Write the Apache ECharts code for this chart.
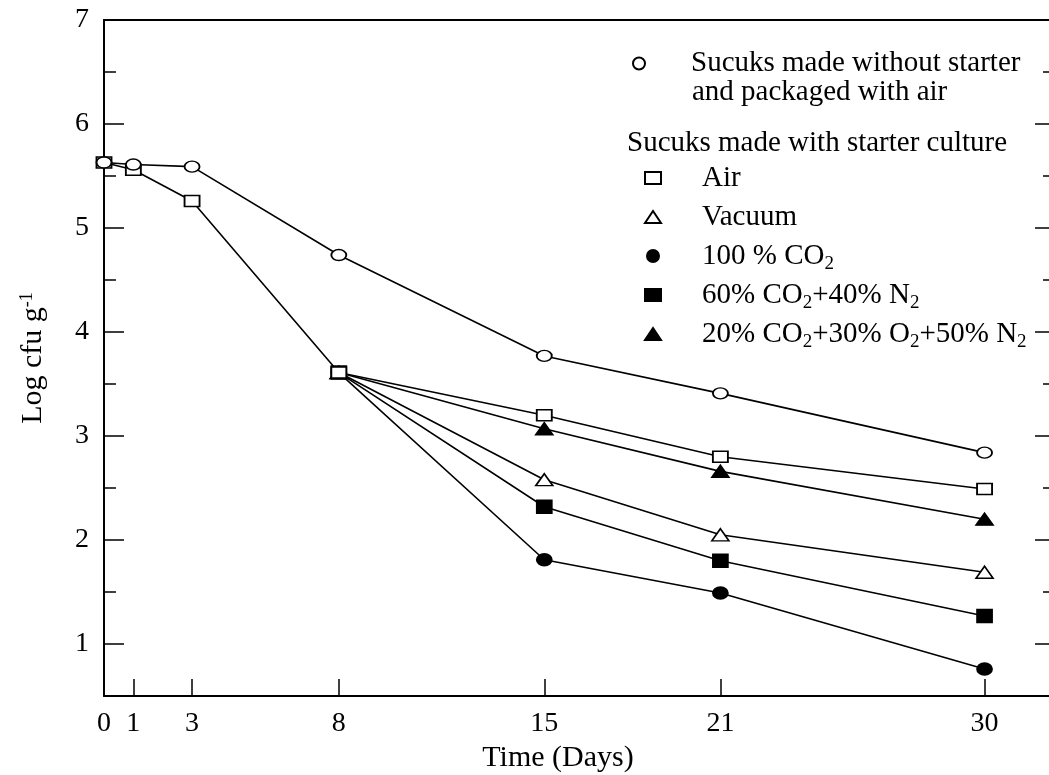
<!DOCTYPE html>
<html>
<head>
<meta charset="utf-8">
<script src="https://cdn.jsdelivr.net/npm/echarts@6/dist/echarts.min.js"></script>
<style>
  html, body { margin: 0; padding: 0; background: #fff; }
  #chart { width: 1049px; height: 775px; }
</style>
</head>
<body>
<div id="chart"></div>
<script>
// sampling days
const days = [0, 1, 3, 8, 15, 21, 30];
const starterDays = [8, 15, 21, 30];

// log cfu/g values
const noStarterAir = [5.63, 5.61, 5.59, 4.74, 3.77, 3.41, 2.84];
const starterAir = [5.63, 5.56, 5.26, 3.61, 3.20, 2.80, 2.49];
const starterVacuum = [3.61, 2.58, 2.05, 1.69];
const starterCO2 = [3.61, 1.81, 1.49, 0.76];
const starterCO2N2 = [3.61, 2.32, 1.80, 1.27];
const starterCO2O2N2 = [3.61, 3.07, 2.66, 2.20];

const xTicks = [0, 1, 3, 8, 15, 21, 30];
const yLabels = [1, 2, 3, 4, 5, 6, 7];

const legendRich = {
  'Sucuks made without starter': 'Sucuks made without starter',
  'Air': 'Air',
  'Vacuum': 'Vacuum',
  '100 % CO2': '100 % CO{sub|2}',
  '60% CO2+40% N2': '60% CO{sub|2}+40% N{sub|2}',
  '20% CO2+30% O2+50% N2': '20% CO{sub|2}+30% O{sub|2}+50% N{sub|2}'
};

const FONT = '"Liberation Serif", "Times New Roman", serif';
const ellipse = 'path://M0,50A50,50,0,1,1,100,50A50,50,0,1,1,0,50Z';

const chart = echarts.init(document.getElementById('chart'));

const pair = (xs, ys) => xs.map((x, i) => [x, ys[i]]);

function lineSeries(name, xs, ys, symbol, size, filled) {
  return {
    name,
    type: 'line',
    data: pair(xs, ys),
    symbol,
    symbolSize: size,
    showSymbol: true,
    lineStyle: { color: '#000', width: 1.6 },
    itemStyle: {
      color: filled ? '#000' : '#fff',
      borderColor: '#000',
      borderWidth: 1.6
    },
    emphasis: { disabled: true }
  };
}

const textBase = { color: '#000', fontFamily: FONT, fontSize: 28 };
const legendText = { color: '#000', fontFamily: FONT, fontSize: 29 };
const richSub = {
  sub: { fontFamily: FONT, fontSize: 19, color: '#000', verticalAlign: 'bottom', lineHeight: 19 },
  g: { width: 36 }
};

const option = {
  animation: false,
  backgroundColor: '#fff',
  textStyle: { fontFamily: FONT, color: '#000' },
  grid: { left: 104, top: 20, width: 951, height: 676, containLabel: false, outerBoundsMode: 'none' },
  xAxis: [
    {
      type: 'value',
      min: 0,
      max: 32.4,
      position: 'bottom',
      name: 'Time (Days)',
      nameLocation: 'middle',
      nameGap: 42,
      nameTextStyle: Object.assign({}, textBase, { fontSize: 30, padding: [0, 43, 0, 0] }),
      axisLine: { show: true, lineStyle: { color: '#000', width: 2 } },
      axisTick: { show: true, inside: true, length: 17, customValues: xTicks, lineStyle: { color: '#000', width: 1.5 } },
      axisLabel: Object.assign({}, textBase, { customValues: xTicks, margin: 14 }),
      splitLine: { show: false }
    },
    {
      type: 'value',
      min: 0,
      max: 32.4,
      position: 'top',
      axisLine: { show: true, lineStyle: { color: '#000', width: 2 } },
      axisTick: { show: false },
      axisLabel: { show: false },
      splitLine: { show: false }
    }
  ],
  yAxis: [
    {
      type: 'value',
      min: 0.5,
      max: 7,
      interval: 0.5,
      position: 'left',
      name: 'Log cfu g{sup|-1}',
      nameLocation: 'middle',
      nameGap: 56,
      nameTextStyle: Object.assign({}, textBase, {
        fontSize: 30,
        rich: { sup: { fontFamily: FONT, fontSize: 18, color: '#000', verticalAlign: 'top', lineHeight: 18 } }
      }),
      axisLine: { show: true, lineStyle: { color: '#000', width: 2 } },
      axisTick: { show: true, inside: true, length: 12, lineStyle: { color: '#000', width: 1.5 } },
      axisLabel: Object.assign({}, textBase, { customValues: yLabels, margin: 15 }),
      splitLine: { show: false }
    },
    {
      type: 'value',
      min: 0.5,
      max: 7,
      interval: 0.5,
      position: 'left',
      axisLine: { show: false },
      axisTick: { show: true, inside: true, length: 20, customValues: yLabels, lineStyle: { color: '#000', width: 1.5 } },
      axisLabel: { show: false },
      splitLine: { show: false }
    },
    {
      type: 'value',
      min: 0.5,
      max: 7,
      interval: 0.5,
      position: 'right',
      axisLine: { show: true, lineStyle: { color: '#000', width: 2 } },
      axisTick: { show: true, inside: true, length: 12, lineStyle: { color: '#000', width: 1.5 } },
      axisLabel: { show: false },
      splitLine: { show: false }
    },
    {
      type: 'value',
      min: 0.5,
      max: 7,
      interval: 0.5,
      position: 'right',
      axisLine: { show: false },
      axisTick: { show: true, inside: true, length: 20, customValues: yLabels, lineStyle: { color: '#000', width: 1.5 } },
      axisLabel: { show: false },
      splitLine: { show: false }
    }
  ],
  legend: [
    {
      data: [{ name: 'Sucuks made without starter', icon: ellipse }],
      left: 632,
      top: 49,
      padding: 0,
      itemWidth: 16,
      itemHeight: 12,
      selectedMode: false,
      formatter: name => '{g| }' + legendRich[name],
      textStyle: Object.assign({}, legendText, { lineHeight: 28, rich: Object.assign({}, richSub, { g: { width: 39 } }) })
    },
    {
      orient: 'vertical',
      data: [
        { name: 'Air', icon: 'rect' },
        { name: 'Vacuum', icon: 'triangle' },
        { name: '100 % CO2', icon: ellipse },
        { name: '60% CO2+40% N2', icon: 'rect' },
        { name: '20% CO2+30% O2+50% N2', icon: 'triangle' }
      ],
      left: 644,
      top: 160,
      padding: 0,
      itemGap: 3,
      itemWidth: 16,
      itemHeight: 12,
      selectedMode: false,
      formatter: name => '{g| }' + legendRich[name],
      textStyle: Object.assign({}, legendText, { lineHeight: 36, rich: richSub })
    }
  ],
  graphic: [
    {
      type: 'text',
      x: 692,
      y: 92,
      style: { text: 'and packaged with air', font: '29px ' + FONT, fill: '#000', verticalAlign: 'middle' }
    },
    {
      type: 'text',
      x: 627,
      y: 143,
      style: { text: 'Sucuks made with starter culture', font: '29px ' + FONT, fill: '#000', verticalAlign: 'middle' }
    }
  ],
  series: [
    lineSeries('20% CO2+30% O2+50% N2', starterDays, starterCO2O2N2, 'triangle', [17, 12], true),
    lineSeries('100 % CO2', starterDays, starterCO2, ellipse, [15, 12], true),
    lineSeries('60% CO2+40% N2', starterDays, starterCO2N2, 'rect', [15, 13], true),
    lineSeries('Vacuum', starterDays, starterVacuum, 'triangle', [17, 12], false),
    lineSeries('Air', days, starterAir, 'rect', [15, 11], false),
    lineSeries('Sucuks made without starter', days, noStarterAir, ellipse, [15, 11], false)
  ]
};

chart.setOption(option);
window.addEventListener('resize', () => chart.resize());
</script>
</body>
</html>
